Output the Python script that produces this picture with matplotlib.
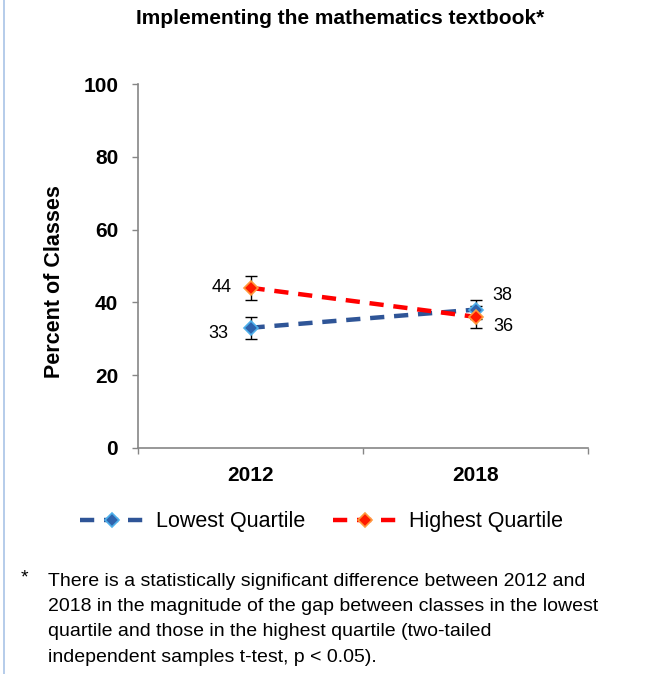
import matplotlib
matplotlib.use("Agg")
import matplotlib.pyplot as plt
from matplotlib.lines import Line2D

plt.rcParams['font.family'] = ['Liberation Sans', 'DejaVu Sans']

years = ["2012", "2018"]
lowest = [33, 38]
highest = [44, 36]
lowest_err = [3.1, 2.7]
highest_err = [3.3, 3.0]
yticks = [0, 20, 40, 60, 80, 100]

fig = plt.figure(figsize=(6.48, 6.74), dpi=100)
ax = fig.add_axes([0.2130, 0.3358, 0.6944, 0.5391])

x = [0.5, 1.5]
axis_grey = "#868686"

# series lines with markers
ax.plot(x, lowest, linestyle=(0, (3.2, 2.2)), color="#2f5597", linewidth=3.2,
        marker="D", markersize=7, markerfacecolor="#2f63ad",
        markeredgecolor="#4fb0ea", markeredgewidth=1.2, zorder=3,
        label="Lowest Quartile")
ax.plot(x, highest, linestyle=(0, (3.2, 2.2)), color="#ff0000", linewidth=3.2,
        marker="D", markersize=7, markerfacecolor="#ff1a00",
        markeredgecolor="#ff9a3c", markeredgewidth=1.2, zorder=3,
        label="Highest Quartile")

# error bars
ax.errorbar(x, lowest, yerr=lowest_err, fmt="none", ecolor="black",
            elinewidth=1, capsize=4.3, capthick=1, zorder=2)
ax.errorbar(x, highest, yerr=highest_err, fmt="none", ecolor="black",
            elinewidth=1, capsize=4.3, capthick=1, zorder=2)

# value labels
lab_kw = dict(textcoords="offset points", va="center", fontsize=13)
ax.annotate(str(highest[0]), (x[0], highest[0]), xytext=(-13.7, 0), ha="right", **lab_kw)
ax.annotate(str(lowest[0]), (x[0], lowest[0]), xytext=(-15.8, -4), ha="right", **lab_kw)
ax.annotate(str(lowest[1]), (x[1], lowest[1]), xytext=(12.2, 10.5), ha="left", **lab_kw)
ax.annotate(str(highest[1]), (x[1], highest[1]), xytext=(13, -7), ha="left", **lab_kw)

ax.set_xlim(0, 2)
ax.set_ylim(0, 100)
ax.set_yticks(yticks)
ax.set_yticklabels([str(v) for v in yticks], fontsize=15, fontweight="bold")
ax.set_xticks([0.5, 1.5])
ax.set_xticklabels(years, fontsize=15, fontweight="bold")
ax.set_xticks([0, 1, 2], minor=True)
ax.tick_params(axis="x", which="major", length=0, pad=13)
ax.tick_params(axis="x", which="minor", length=4.3, color=axis_grey, width=1)
ax.tick_params(axis="y", length=4.3, color=axis_grey, width=1, pad=10)

for side in ("top", "right"):
    ax.spines[side].set_visible(False)
for side in ("left", "bottom"):
    ax.spines[side].set_color(axis_grey)
    ax.spines[side].set_linewidth(1.2)

fig.text(55 / 648, 1 - 282 / 674, "Percent of Classes", rotation=90,
         ha="center", va="center", fontsize=15.5, fontweight="bold")

fig.text(340 / 648, 1 - 19 / 674, "Implementing the mathematics textbook*",
         ha="center", va="center", fontsize=15, fontweight="bold")

fig.legend(loc="center", bbox_to_anchor=(321.5 / 648, 1 - 522 / 674),
           bbox_transform=fig.transFigure, ncol=2, frameon=False,
           fontsize=15.5, handlelength=3.0, columnspacing=1.25,
           handletextpad=0.55, borderpad=0, borderaxespad=0)

fig.text(21 / 648, 1 - 578 / 674, "*", fontsize=14, ha="left", va="center")
fig.text(48 / 648, 1 - 572.5 / 674,
         "There is a statistically significant difference between 2012 and\n"
         "2018 in the magnitude of the gap between classes in the lowest\n"
         "quartile and those in the highest quartile (two-tailed\n"
         "independent samples t-test, p < 0.05).",
         fontsize=14, ha="left", va="top", linespacing=1.65)

# thin border line along the left edge
fig.add_artist(Line2D([0.0065, 0.0065], [0, 1], transform=fig.transFigure,
                      color="#a9c4e6", linewidth=1.2))

fig.savefig("out.png", dpi=100)
